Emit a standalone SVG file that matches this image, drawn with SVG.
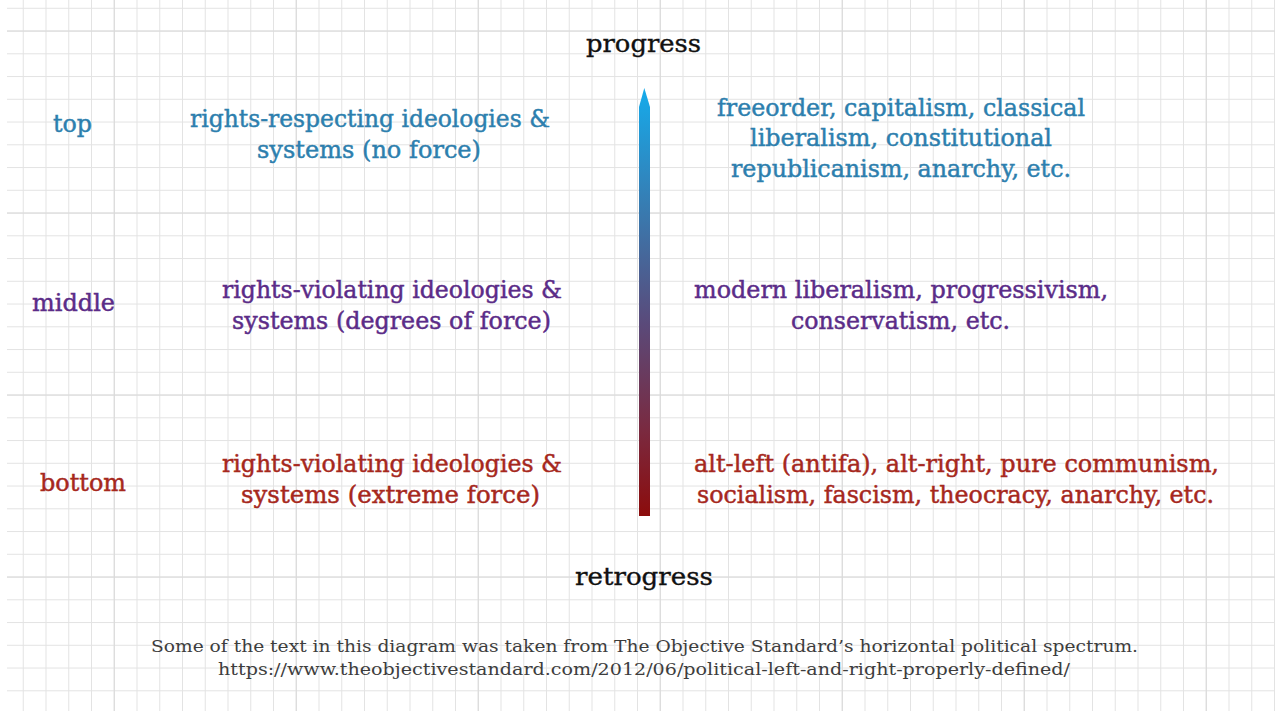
<svg xmlns="http://www.w3.org/2000/svg" width="1275" height="711" viewBox="0 0 1275 711">
<defs>
<pattern id="grid" patternUnits="userSpaceOnUse" x="0" y="7.8" width="22.75" height="22.75">
<path d="M0.5 0V22.75M0 0.5H22.75" stroke="#e3e3e3" stroke-width="1" fill="none"/>
</pattern>
<linearGradient id="arrowGrad" x1="0" y1="88" x2="0" y2="516" gradientUnits="userSpaceOnUse">
<stop offset="0" stop-color="#15abeb"/>
<stop offset="0.3" stop-color="#3a78ad"/>
<stop offset="0.55" stop-color="#5a4a7a"/>
<stop offset="0.8" stop-color="#7a2a40"/>
<stop offset="1" stop-color="#8c0c0c"/>
</linearGradient>
</defs>
<style>
.t{font-family:"DejaVu Serif","Liberation Serif",serif;font-size:23.5px;text-anchor:middle;stroke-width:0.45px;}
.blue{fill:#2d7fae;stroke:#2d7fae;}
.purple{fill:#5b2c88;stroke:#5b2c88;}
.red{fill:#a6281d;stroke:#a6281d;}
.head{fill:#111;stroke:#111;font-size:24px;stroke-width:0.35px;}
.foot{font-family:"DejaVu Serif","Liberation Serif",serif;font-size:16px;fill:#3d3d3d;text-anchor:middle;}
.major{stroke:#d9d9d9;stroke-width:1;}
</style>
<rect width="1275" height="711" fill="#ffffff"/>
<g id="grid-bg">
<rect x="7" y="0" width="1268" height="711" fill="url(#grid)"/>
<g class="major">
<line x1="114.25" y1="0" x2="114.25" y2="711"/>
<line x1="296.25" y1="0" x2="296.25" y2="711"/>
<line x1="478.25" y1="0" x2="478.25" y2="711"/>
<line x1="660.25" y1="0" x2="660.25" y2="711"/>
<line x1="842.25" y1="0" x2="842.25" y2="711"/>
<line x1="1024.25" y1="0" x2="1024.25" y2="711"/>
<line x1="1206.25" y1="0" x2="1206.25" y2="711"/>
<line x1="7" y1="31.05" x2="1275" y2="31.05"/>
<line x1="7" y1="213.05" x2="1275" y2="213.05"/>
<line x1="7" y1="395.05" x2="1275" y2="395.05"/>
<line x1="7" y1="577.05" x2="1275" y2="577.05"/>
</g>
</g>
<g id="connectors">
<path id="axis-arrow" d="M644.3 88 L650 107 L650 516 L639 516 L639 107 Z" fill="url(#arrowGrad)"/>
</g>
<g id="progress"><text class="t head" x="643.5" y="52" textLength="115" lengthAdjust="spacingAndGlyphs">progress</text></g>
<g id="retrogress"><text class="t head" x="644" y="585" textLength="138" lengthAdjust="spacingAndGlyphs">retrogress</text></g>
<g id="label-top"><text class="t blue" x="72.5" y="132" textLength="39" lengthAdjust="spacingAndGlyphs">top</text></g>
<g id="label-middle"><text class="t purple" x="73.5" y="311" textLength="83" lengthAdjust="spacingAndGlyphs">middle</text></g>
<g id="label-bottom"><text class="t red" x="83" y="491" textLength="86" lengthAdjust="spacingAndGlyphs">bottom</text></g>
<g id="top-left">
<text class="t blue" x="370" y="127" textLength="360" lengthAdjust="spacingAndGlyphs">rights-respecting ideologies &amp;</text>
<text class="t blue" x="369" y="158" textLength="224" lengthAdjust="spacingAndGlyphs">systems (no force)</text>
</g>
<g id="top-right">
<text class="t blue" x="901" y="116" textLength="368" lengthAdjust="spacingAndGlyphs">freeorder, capitalism, classical</text>
<text class="t blue" x="901" y="146" textLength="302" lengthAdjust="spacingAndGlyphs">liberalism, constitutional</text>
<text class="t blue" x="901" y="177" textLength="340" lengthAdjust="spacingAndGlyphs">republicanism, anarchy, etc.</text>
</g>
<g id="middle-left">
<text class="t purple" x="392" y="298" textLength="340" lengthAdjust="spacingAndGlyphs">rights-violating ideologies &amp;</text>
<text class="t purple" x="391.5" y="329" textLength="319" lengthAdjust="spacingAndGlyphs">systems (degrees of force)</text>
</g>
<g id="middle-right">
<text class="t purple" x="901" y="298" textLength="414" lengthAdjust="spacingAndGlyphs">modern liberalism, progressivism,</text>
<text class="t purple" x="900.5" y="329" textLength="219" lengthAdjust="spacingAndGlyphs">conservatism, etc.</text>
</g>
<g id="bottom-left">
<text class="t red" x="392" y="472" textLength="340" lengthAdjust="spacingAndGlyphs">rights-violating ideologies &amp;</text>
<text class="t red" x="390.5" y="503" textLength="299" lengthAdjust="spacingAndGlyphs">systems (extreme force)</text>
</g>
<g id="bottom-right">
<text class="t red" x="956.5" y="472" textLength="525" lengthAdjust="spacingAndGlyphs">alt-left (antifa), alt-right, pure communism,</text>
<text class="t red" x="955.5" y="503" textLength="517" lengthAdjust="spacingAndGlyphs">socialism, fascism, theocracy, anarchy, etc.</text>
</g>
<g id="footer">
<text class="foot" x="644.5" y="652" textLength="987" lengthAdjust="spacingAndGlyphs">Some of the text in this diagram was taken from The Objective Standard’s horizontal political spectrum.</text>
<text class="foot" x="644" y="675" textLength="852" lengthAdjust="spacingAndGlyphs">https://www.theobjectivestandard.com/2012/06/political-left-and-right-properly-defined/</text>
</g>
</svg>
